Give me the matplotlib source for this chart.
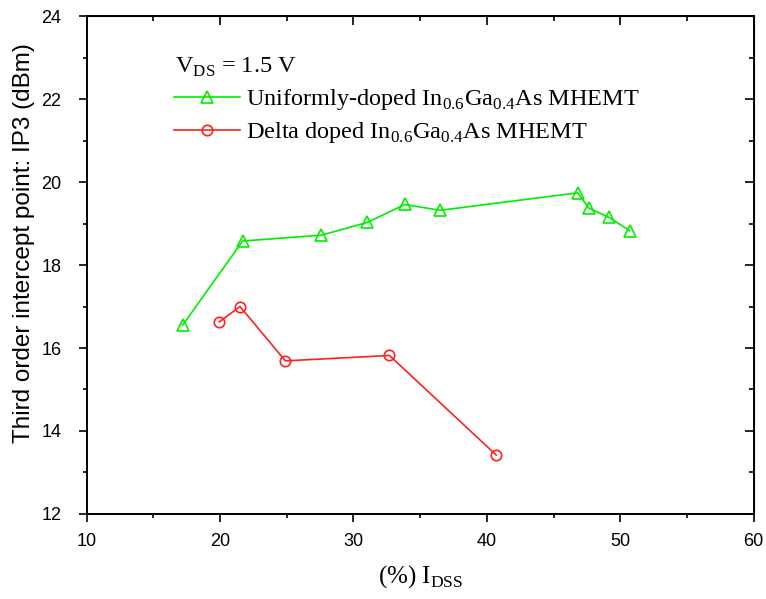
import matplotlib
matplotlib.use("Agg")
import matplotlib.pyplot as plt
from matplotlib.ticker import MultipleLocator

# Uniformly-doped In0.6Ga0.4As MHEMT
idss_uni = [17.2, 21.7, 27.6, 31.05, 33.85, 36.5, 46.8, 47.65, 49.15, 50.7]
ip3_uni = [16.55, 18.58, 18.72, 19.03, 19.46, 19.32, 19.74, 19.37, 19.15, 18.83]

# Delta doped In0.6Ga0.4As MHEMT
idss_delta = [19.95, 21.5, 24.9, 32.7, 40.7]
ip3_delta = [16.63, 17.0, 15.69, 15.82, 13.42]

serif = ["Liberation Serif", "DejaVu Serif"]
sans = ["Liberation Sans", "DejaVu Sans"]

fig = plt.figure(figsize=(7.66, 5.99), dpi=100)
ax = fig.add_axes([0.113, 0.142, 0.871, 0.831])

ax.plot(idss_uni, ip3_uni, color="#00ee00", lw=1.2, marker="^", ms=8.5,
        mfc="none", mec="#00ee00", mew=1.2,
        label=r"Uniformly-doped In$_{\mathregular{0.6}}$Ga$_{\mathregular{0.4}}$As MHEMT")
ax.plot(idss_delta, ip3_delta, color="#ff2020", lw=1.2, marker="o", ms=7.5,
        mfc="none", mec="#ff2020", mew=1.2,
        label=r"Delta doped In$_{\mathregular{0.6}}$Ga$_{\mathregular{0.4}}$As MHEMT")

ax.set_xlim(10, 60)
ax.set_ylim(12, 24)
ax.xaxis.set_major_locator(MultipleLocator(10))
ax.xaxis.set_minor_locator(MultipleLocator(5))
ax.yaxis.set_major_locator(MultipleLocator(2))
ax.yaxis.set_minor_locator(MultipleLocator(1))
ax.tick_params(which="both", direction="out", width=1.2, labelsize=13)
ax.tick_params(which="major", length=6)
ax.tick_params(which="minor", length=3)
ax.tick_params(axis="x", pad=8)
ax.tick_params(axis="y", pad=12)
for lbl in ax.get_xticklabels() + ax.get_yticklabels():
    lbl.set_family(sans)
for s in ax.spines.values():
    s.set_linewidth(1.4)

# inward ticks on top and right
sec_x = ax.secondary_xaxis("top")
sec_x.xaxis.set_major_locator(MultipleLocator(10))
sec_x.xaxis.set_minor_locator(MultipleLocator(5))
sec_x.tick_params(which="both", direction="in", labeltop=False, width=1.2)
sec_x.tick_params(which="major", length=6.5)
sec_x.tick_params(which="minor", length=3.5)
sec_y = ax.secondary_yaxis("right")
sec_y.yaxis.set_major_locator(MultipleLocator(2))
sec_y.yaxis.set_minor_locator(MultipleLocator(1))
sec_y.tick_params(which="both", direction="in", labelright=False, width=1.2)
sec_y.tick_params(which="major", length=6.5)
sec_y.tick_params(which="minor", length=3.5)

ax.set_xlabel(r"(%) I$_{\mathregular{DSS}}$", family=serif, fontsize=18, labelpad=9)
ax.set_ylabel("Third order intercept point: IP3 (dBm)", fontsize=17.5, family=sans)
ax.yaxis.set_label_coords(-0.077, 0.545)

ax.text(0.132, 0.897, r"V$_{\mathregular{DS}}$ = 1.5 V", transform=ax.transAxes,
        family=serif, fontsize=17.5, va="center", ha="left")
leg = ax.legend(loc="upper left", bbox_to_anchor=(0.117, 0.877), frameon=False,
                prop={"family": serif, "size": 17.5},
                handlelength=2.7, handletextpad=0.25, borderaxespad=0, labelspacing=0.33)

fig.savefig("out.png", dpi=100)
